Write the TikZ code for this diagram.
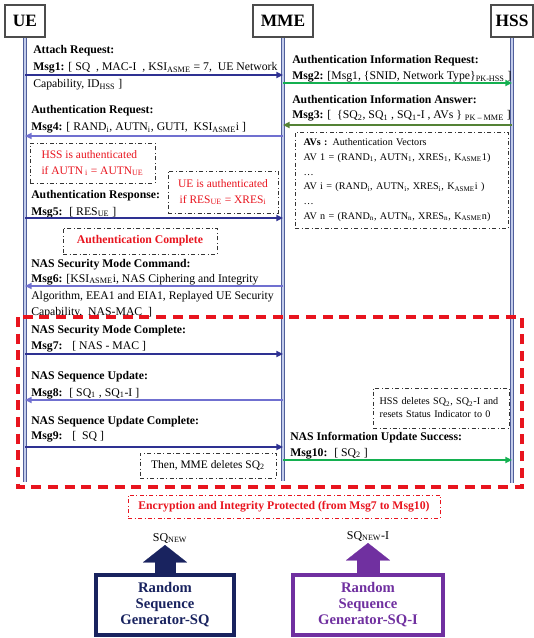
\documentclass[tikz,border=0pt]{standalone}
\usepackage{fontspec}
\setmainfont{Liberation Serif}
\usetikzlibrary{arrows.meta}

\definecolor{fwdc}{RGB}{46,49,146}
\definecolor{backc}{RGB}{112,112,208}
\definecolor{grnc}{RGB}{20,176,80}
\definecolor{dgrnc}{RGB}{84,130,53}
\definecolor{lifec}{RGB}{80,95,155}
\definecolor{lifein}{RGB}{195,204,235}
\definecolor{redc}{RGB}{232,20,30}
\definecolor{navyc}{RGB}{25,35,95}
\definecolor{purpc}{RGB}{112,48,160}

\tikzset{
  actor/.style={draw=black!70, line width=1.2pt, fill=white, minimum height=24pt, inner sep=0pt, font=\fontsize{13}{15}\selectfont\bfseries},
  life/.style={draw=lifec, line width=0.75pt, double=lifein, double distance=1.7pt},
  txt/.style={anchor=base west, inner sep=0pt, font=\fontsize{8.8}{10}\selectfont},
  hd/.style={txt, font=\fontsize{8.8}{10}\selectfont\bfseries},
  msg/.style={line width=1.3pt, -{Triangle[length=5pt,width=4.5pt]}},
  fwd/.style={msg, draw=fwdc},
  back/.style={msg, draw=backc},
  grn/.style={msg, draw=grnc},
  dgrn/.style={msg, draw=dgrnc},
  note/.style={draw=black!80, dash dot, line width=0.6pt, inner sep=0pt, font=\fontsize{8.6}{12}\selectfont},
  rednote/.style={note, text=redc},
  prot/.style={draw=redc, line width=2.3pt, dash pattern=on 7.5pt off 5pt},
  gen/.style={line width=2.5pt, fill=white, minimum width=103.5pt, minimum height=45pt, align=center, inner sep=0pt, font=\fontsize{11}{12}\selectfont\bfseries},
  fat/.style={line width=#1, -{Triangle[length=13pt,width=33pt,line width=0.1pt]}}
}

\begin{document}
\begin{tikzpicture}[x=0.75pt,y=-0.75pt]
\useasboundingbox (0,0) rectangle (534,638);

\node[actor, minimum width=30pt] (ue) at (25,21) {UE};
\node[actor, minimum width=45pt] (mme) at (283,21) {MME};
\node[actor, minimum width=31.5pt] (hss) at (512,21) {HSS};

\draw[life] (ue.south) -- (ue |- 0,482);
\draw[life] (mme.south) -- (mme |- 0,481);
\draw[life] (hss.south) -- (hss |- 0,483);

\node[hd] (t1) at (33,54) {Attach Request:};
\node[txt] (t1b) at (33,71) {\textbf{Msg1:} [ SQ \ , MAC-I \ , KSI\textsubscript{ASME} = 7, \ UE Network};
\node[txt] (t1c) at (33,88) {Capability, ID\textsubscript{HSS} ]};
\draw[fwd] (ue |- 0,75) -- (mme |- 0,75);

\node[hd] (t2) at (292,64) {Authentication Information Request:};
\node[txt] (t2b) at (292,80) {\textbf{Msg2:} [Msg1, \{SNID, Network Type\}\textsubscript{PK-HSS} ]};
\draw[grn] (mme |- 0,83) -- (hss |- 0,83);

\node[hd] (t3) at (292,104) {Authentication Information Answer:};
\node[txt] (t3b) at (292,119) {\textbf{Msg3:} [ \ \{SQ\textsubscript{2}, SQ\textsubscript{1} , SQ\textsubscript{1}-I , AVs \} \textsubscript{PK -- MME} ]};
\draw[dgrn] (hss |- 0,125) -- (mme |- 0,125);

\node[hd] (t4) at (31,114) {Authentication Request:};
\node[txt] (t4b) at (31,131) {\textbf{Msg4:} [ RAND\textsubscript{i}, AUTN\textsubscript{i}, GUTI, \ KSI\textsubscript{ASME}i ]};
\draw[back] (mme |- 0,136) -- (ue |- 0,136);

\node[note, minimum width=159.75pt, minimum height=72pt, text width=147pt, align=left, font=\fontsize{7.6}{11}\selectfont] (avs) at (401.5,180)
  {\textbf{AVs :} Authentication Vectors\\
   AV 1 = (RAND\textsubscript{1}, AUTN\textsubscript{1}, XRES\textsubscript{1}, K\textsubscript{ASME}1)\\
   \dots\\
   AV i = (RAND\textsubscript{i}, AUTN\textsubscript{i}, XRES\textsubscript{i}, K\textsubscript{ASME}i )\\
   \dots\\
   AV n = (RAND\textsubscript{n}, AUTN\textsubscript{n}, XRES\textsubscript{n}, K\textsubscript{ASME}n)};

\node[rednote, minimum width=93.75pt, minimum height=30pt, align=left] (hssok) at (92.5,163)
  {HSS is authenticated\\ if AUTN\,\textsubscript{i} = AUTN\textsubscript{UE}};
\node[rednote, minimum width=82.5pt, minimum height=31.5pt, align=center] (ueok) at (223,192)
  {UE is authenticated\\ if RES\textsubscript{UE} = XRES\textsubscript{i}};

\node[hd] (t5) at (31,198) {Authentication Response:};
\node[txt] (t5b) at (31,215) {\textbf{Msg5:} \ [ RES\textsubscript{UE} ]};
\draw[fwd] (ue |- 0,218) -- (mme |- 0,218);

\node[rednote, minimum width=115.5pt, minimum height=19.5pt, font=\fontsize{8.8}{10}\selectfont\bfseries] (authc) at (140,241) {Authentication Complete};

\node[hd] (t6) at (31,267) {NAS Security Mode Command:};
\node[txt] (t6b) at (31,282) {\textbf{Msg6:} [KSI\textsubscript{ASME}i, NAS Ciphering and Integrity};
\node[txt] (t6c) at (31,299) {Algorithm, EEA1 and EIA1, Replayed UE Security};
\node[txt] (t6d) at (31,315) {Capability, \ NAS-MAC \ ]};
\draw[back] (mme |- 0,286) -- (ue |- 0,286);

\draw[prot] (18,317) rectangle (522,487);

\node[hd] (t7) at (31,333) {NAS Security Mode Complete:};
\node[txt] (t7b) at (31,349) {\textbf{Msg7:} \ \ [ NAS - MAC ]};
\draw[fwd] (ue |- 0,354) -- (mme |- 0,354);

\node[hd] (t8) at (31,379) {NAS Sequence Update:};
\node[txt] (t8b) at (31,396) {\textbf{Msg8:} \ [ SQ\textsubscript{1} , SQ\textsubscript{1}-I ]};
\draw[back] (mme |- 0,400) -- (ue |- 0,400);

\node[hd] (t9) at (31,424) {NAS Sequence Update Complete:};
\node[txt] (t9b) at (31,439) {\textbf{Msg9:} \ \ [ \ SQ ]};
\draw[fwd] (ue |- 0,447) -- (mme |- 0,447);

\node[note, minimum width=102pt, minimum height=30pt, text width=92pt, align=left, font=\fontsize{7.6}{9.75}\selectfont] (hssdel) at (441,408)
  {HSS deletes SQ\textsubscript{2}, SQ\textsubscript{2}-I and\\ resets Status Indicator to 0};

\node[hd] (t10) at (290,440) {NAS Information Update Success:};
\node[txt] (t10b) at (290,456) {\textbf{Msg10:} \ [ SQ\textsubscript{2} ]};
\draw[grn] (mme |- 0,460) -- (hss |- 0,460);

\node[note, minimum width=102pt, minimum height=18.75pt] (mmedel) at (208,465.5) {Then, MME deletes SQ\textsubscript{2}};

\node[rednote, draw=redc, minimum width=234pt, minimum height=17.25pt, font=\fontsize{8.8}{10}\selectfont\bfseries] (enc) at (284,506.5)
  {Encryption and Integrity Protected (from Msg7 to Msg10)};

\node[gen, draw=navyc, text=navyc] (gensq) at (165,605) {Random\\ Sequence\\ Generator-SQ};
\node[gen, draw=purpc, text=purpc, minimum width=112.5pt] (gensqi) at (368,605) {Random\\ Sequence\\ Generator-SQ-I};

\node[anchor=south, inner sep=1pt, font=\fontsize{9}{10}\selectfont] (sqnew) at (170,545) {SQ\textsubscript{NEW}};
\node[anchor=south, inner sep=1pt, font=\fontsize{9}{10}\selectfont] (sqnewi) at (368,543) {SQ\textsubscript{NEW}-I};

\draw[fat=15.75pt, navyc] (gensq.north) -- (gensq.north |- sqnew.south);
\draw[fat=17.25pt, purpc] (gensqi.north) -- (gensqi.north |- sqnewi.south);
\end{tikzpicture}
\end{document}
